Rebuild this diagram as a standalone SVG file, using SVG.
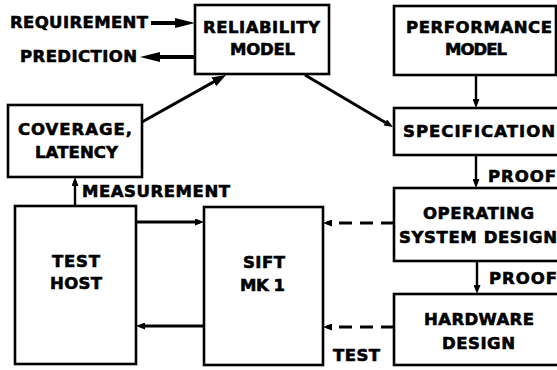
<svg xmlns="http://www.w3.org/2000/svg" width="557" height="370" viewBox="0 0 557 370">
<style>
  .box { fill: #fff; stroke: #000; stroke-width: 2.6; }
  .t { font-family: "DejaVu Sans", "Liberation Sans", Arial, sans-serif; font-weight: bold; font-size: 16.5px; fill: #000; stroke: #000; stroke-width: 0.6; }
  .thick { stroke: #000; stroke-width: 4; fill: none; }
  .med { stroke: #000; stroke-width: 3; fill: none; }
  .thin { stroke: #000; stroke-width: 2.4; fill: none; }
  .dash { stroke: #000; stroke-width: 3; fill: none; stroke-dasharray: 13 8; }
</style>
<defs>
  <marker id="big" markerUnits="userSpaceOnUse" markerWidth="20" markerHeight="10" refX="12" refY="5" orient="auto">
    <path d="M0,0 L20,5 L0,10 Z" fill="#000"/>
  </marker>
  <marker id="mid" markerUnits="userSpaceOnUse" markerWidth="14" markerHeight="10" refX="8" refY="5" orient="auto">
    <path d="M0,0 L14,5 L0,10 Z" fill="#000"/>
  </marker>
  <marker id="small" markerUnits="userSpaceOnUse" markerWidth="9" markerHeight="7" refX="5" refY="3.5" orient="auto">
    <path d="M0,0 L9,3.5 L0,7 Z" fill="#000"/>
  </marker>
</defs>
<rect width="557" height="370" fill="#fff"/>

<g id="connectors">
  <line class="thick" x1="151" y1="23" x2="187" y2="23" marker-end="url(#big)"/>
  <line class="thick" x1="195" y1="57" x2="148" y2="57" marker-end="url(#big)"/>
  <line class="med" x1="142" y1="122" x2="220.8" y2="77.9" marker-end="url(#mid)"/>
  <line class="med" x1="305" y1="75" x2="389.6" y2="125" marker-end="url(#small)"/>
  <line class="thin" x1="476" y1="75" x2="476" y2="104" marker-end="url(#small)"/>
  <line class="thin" x1="476" y1="155" x2="476" y2="184" marker-end="url(#small)"/>
  <line class="thin" x1="477" y1="261" x2="477" y2="290" marker-end="url(#small)"/>
  <line class="thin" x1="75" y1="206" x2="75" y2="181" marker-end="url(#small)"/>
  <line class="med" x1="136" y1="222" x2="200" y2="222" marker-end="url(#small)"/>
  <line class="med" x1="204" y1="326" x2="140" y2="326" marker-end="url(#small)"/>
  <line class="dash" x1="394" y1="223" x2="327" y2="223" marker-end="url(#small)"/>
  <line class="dash" x1="394" y1="327" x2="327" y2="327" marker-end="url(#small)"/>
</g>

<g id="requirement">
  <text class="t" x="10" y="28" textLength="138" lengthAdjust="spacing">REQUIREMENT</text>
</g>
<g id="prediction">
  <text class="t" x="20" y="62" textLength="117" lengthAdjust="spacing">PREDICTION</text>
</g>

<g id="reliability-model">
  <rect class="box" x="195" y="5" width="134" height="69"/>
  <text class="t" x="203" y="33" textLength="117" lengthAdjust="spacing">RELIABILITY</text>
  <text class="t" x="230" y="55" textLength="65" lengthAdjust="spacing">MODEL</text>
</g>

<g id="performance-model">
  <rect class="box" x="394" y="6" width="162" height="69"/>
  <text class="t" x="406" y="33" textLength="146" lengthAdjust="spacing">PERFORMANCE</text>
  <text class="t" x="445" y="55" textLength="62" lengthAdjust="spacing">MODEL</text>
</g>

<g id="coverage-latency">
  <rect class="box" x="8" y="105" width="134" height="72"/>
  <text class="t" x="18" y="135" textLength="114" lengthAdjust="spacing">COVERAGE,</text>
  <text class="t" x="35" y="158" textLength="83" lengthAdjust="spacing">LATENCY</text>
</g>

<g id="specification">
  <rect class="box" x="394" y="108" width="170" height="47"/>
  <text class="t" x="403" y="137" textLength="152" lengthAdjust="spacing">SPECIFICATION</text>
</g>

<g id="proof-1">
  <text class="t" x="488" y="182" textLength="68" lengthAdjust="spacing">PROOF</text>
</g>

<g id="measurement">
  <text class="t" x="82" y="197" textLength="148" lengthAdjust="spacing">MEASUREMENT</text>
</g>

<g id="test-host">
  <rect class="box" x="15" y="206" width="121" height="158"/>
  <text class="t" x="52" y="267" textLength="48" lengthAdjust="spacing">TEST</text>
  <text class="t" x="50" y="289" textLength="52" lengthAdjust="spacing">HOST</text>
</g>

<g id="sift-mk1">
  <rect class="box" x="204" y="207" width="119" height="158"/>
  <text class="t" x="243" y="268" textLength="42" lengthAdjust="spacing">SIFT</text>
  <text class="t" x="240" y="291" textLength="45" lengthAdjust="spacing">MK 1</text>
</g>

<g id="operating-system-design">
  <rect class="box" x="394" y="188" width="170" height="73"/>
  <text class="t" x="423" y="219" textLength="111" lengthAdjust="spacing">OPERATING</text>
  <text class="t" x="399" y="243" textLength="158" lengthAdjust="spacing">SYSTEM DESIGN</text>
</g>

<g id="proof-2">
  <text class="t" x="489" y="284" textLength="68" lengthAdjust="spacing">PROOF</text>
</g>

<g id="hardware-design">
  <rect class="box" x="394" y="294" width="170" height="71"/>
  <text class="t" x="424" y="325" textLength="110" lengthAdjust="spacing">HARDWARE</text>
  <text class="t" x="442" y="349" textLength="73" lengthAdjust="spacing">DESIGN</text>
</g>

<g id="test-label">
  <text class="t" x="333" y="361" textLength="47" lengthAdjust="spacing">TEST</text>
</g>
</svg>
